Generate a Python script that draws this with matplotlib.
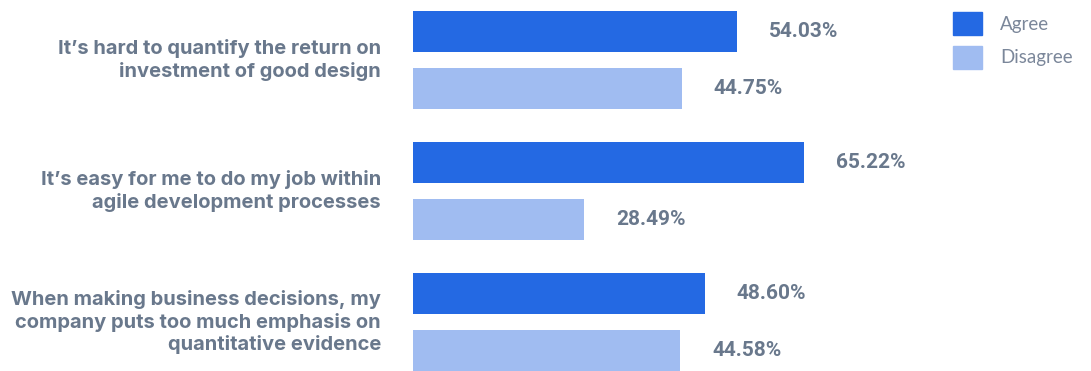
import numpy as np
import matplotlib
matplotlib.use("Agg")
import matplotlib.pyplot as plt
from matplotlib.patches import Patch

statements = [
    "It’s hard to quantify the return on\ninvestment of good design",
    "It’s easy for me to do my job within\nagile development processes",
    "When making business decisions, my\ncompany puts too much emphasis on\nquantitative evidence",
]
agree = [54.03, 65.22, 48.60]
disagree = [44.75, 28.49, 44.58]
series_names = ["Agree", "Disagree"]

AGREE_COLOR = "#2469E3"
DISAGREE_COLOR = "#A0BCF1"
TEXT_COLOR = "#69788C"
LEGEND_TEXT = "#7B879A"

W, H, DPI = 1091, 371, 100
fig = plt.figure(figsize=(W / DPI, H / DPI), dpi=DPI)

# axes start where the bars start, full height of the figure
x0 = 413
ax = fig.add_axes([x0 / W, 0, 1 - x0 / W, 1])
px_per_pct = 6.0
ax.set_xlim(0, (W - x0) / px_per_pct)

pitch = 131.0
first_center = 31.5
ax.set_ylim((H - first_center) / pitch, -first_center / pitch)

group = np.arange(len(statements))
offset = 57 / pitch
height = 41 / pitch
y_agree = group
y_disagree = group + offset

ax.barh(y_agree, agree, height=height, color=AGREE_COLOR)
ax.barh(y_disagree, disagree, height=height, color=DISAGREE_COLOR)

value_font = dict(fontsize=15, fontweight="bold", family=["Roboto", "DejaVu Sans"],
                  color=TEXT_COLOR)
label_gap = 32 / px_per_pct
for y, v in zip(y_agree, agree):
    ax.text(v + label_gap, y, f"{v:.2f}%", ha="left", va="center", **value_font)
for y, v in zip(y_disagree, disagree):
    ax.text(v + label_gap, y, f"{v:.2f}%", ha="left", va="center", **value_font)

# category labels, right aligned left of the bars
for y, s in zip(group + offset / 2, statements):
    ax.text(-32 / px_per_pct, y, s, ha="right", va="center",
            fontsize=14.5, fontweight="bold", family=["Inter", "DejaVu Sans"],
            color=TEXT_COLOR, linespacing=1.25)

for side in ax.spines.values():
    side.set_visible(False)
ax.set_xticks([])
ax.set_yticks([])

handles = [Patch(color=AGREE_COLOR), Patch(color=DISAGREE_COLOR)]
fs = 13.5
fs_px = fs * DPI / 72
fig.legend(handles, series_names, loc="upper left",
           bbox_to_anchor=(953 / W, 1 - 12 / H), frameon=False,
           prop={"family": ["Lato", "DejaVu Sans"], "size": fs},
           labelcolor=LEGEND_TEXT, borderpad=0, borderaxespad=0,
           handlelength=29 / fs_px, handleheight=28 / fs_px,
           handletextpad=18 / fs_px, labelspacing=11 / fs_px)

fig.savefig("out.png", dpi=DPI)
